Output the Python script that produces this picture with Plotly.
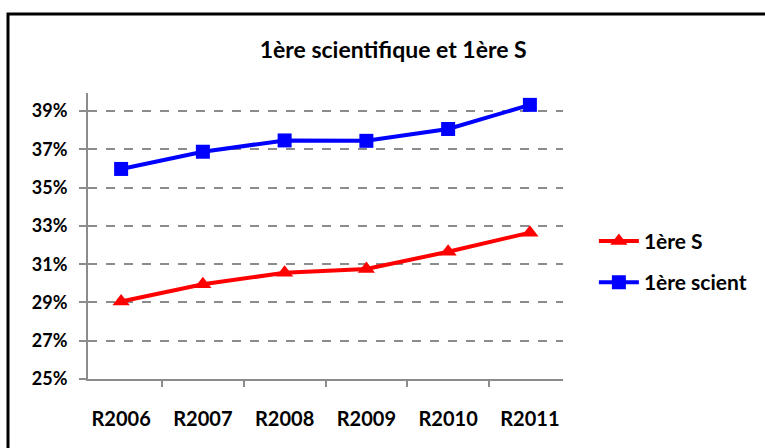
import plotly.graph_objects as go

# ---------------- Data ----------------
years = ["R2006", "R2007", "R2008", "R2009", "R2010", "R2011"]
premiere_s = [29.05, 29.95, 30.55, 30.75, 31.65, 32.65]
premiere_scient = [35.98, 36.88, 37.47, 37.45, 38.07, 39.33]

FONT = "Lato"
GRID = "#8c8c8c"

fig = go.Figure()
fig.add_trace(go.Scatter(x=years, y=premiere_s, name="1ère S", mode="lines+markers",
                         legendgroup="s",
                         line=dict(color="#ff0000", width=4),
                         marker=dict(symbol="triangle-up", size=15, color="#ff0000")))
fig.add_trace(go.Scatter(x=years, y=premiere_scient, name="1ère scient", mode="lines+markers",
                         legendgroup="scient",
                         line=dict(color="#0000ff", width=4),
                         marker=dict(symbol="square", size=14, color="#0000ff")))

fig.update_layout(
    width=765, height=448,
    margin=dict(l=88, r=202, t=93, b=69),
    paper_bgcolor="white", plot_bgcolor="white",
    title=dict(text="1ère scientifique et 1ère S", x=0.514, xref="container", xanchor="center",
               y=1 - 50 / 448, yref="container", yanchor="middle",
               font=dict(family=FONT, size=23, color="black", weight="bold")),
    legend=dict(x=1.065, xanchor="left", y=0.41, yanchor="middle",
                font=dict(family=FONT, size=21, color="black", weight="bold"),
                tracegroupgap=11, itemwidth=40, bgcolor="rgba(0,0,0,0)"),
    showlegend=True,
)

fig.update_xaxes(type="category", showgrid=False, showline=True, linecolor=GRID, linewidth=2,
                 ticks="outside", tickson="boundaries", ticklen=6, tickwidth=2, tickcolor=GRID,
                 ticklabelstandoff=21,
                 tickfont=dict(family=FONT, size=20, color="black", weight="bold"))
fig.update_yaxes(range=[25, 39.95], tick0=25, dtick=2, ticksuffix="%",
                 showgrid=True, gridcolor=GRID, gridwidth=2, griddash="dash",
                 zeroline=False, showline=True, linecolor=GRID, linewidth=2,
                 ticks="outside", ticklen=7, tickwidth=2, tickcolor=GRID,
                 ticklabelstandoff=8,
                 tickfont=dict(family=FONT, size=18, color="black", weight="bold"))

# outer black frame (runs off the right and bottom edges like the reference)
fig.add_shape(type="rect", xref="paper", yref="paper",
              x0=(8 - 88) / 475, x1=1.6, y0=-0.5, y1=(379 - 14) / 286,
              line=dict(color="black", width=3), fillcolor="rgba(0,0,0,0)", layer="below")

fig.write_html("out.html", config={"displayModeBar": False},
               post_script="document.body.style.margin='0';")
